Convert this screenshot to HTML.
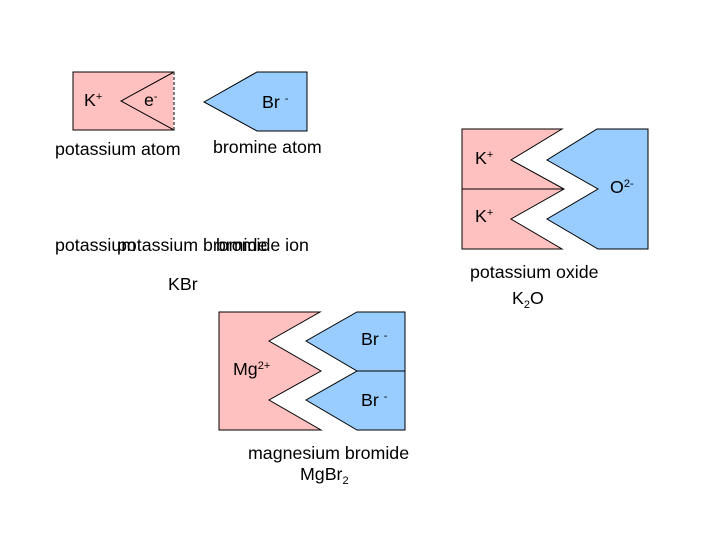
<!DOCTYPE html>
<html><head><meta charset="utf-8"><style>
html,body{margin:0;padding:0;background:#fff;}
svg text{font-family:"Liberation Sans",Arial,sans-serif;font-size:17.8px;fill:#000;}
</style></head><body>
<svg width="720" height="540" viewBox="0 0 720 540" xmlns="http://www.w3.org/2000/svg">
<rect x="0" y="0" width="720" height="540" fill="#fff"/>
<rect x="73" y="72" width="101" height="58" fill="#ffc0c0" stroke="#000" stroke-width="1"/>
<polyline points="174,72 121,101 174,130" fill="none" stroke="#000" stroke-width="1"/>
<line x1="174" y1="72" x2="174" y2="130" stroke="#fff" stroke-width="1.5"/>
<line x1="174" y1="72" x2="174" y2="130" stroke="#000" stroke-width="1" stroke-dasharray="3,2"/>
<text x="84" y="106">K<tspan font-size="11" dy="-6">+</tspan></text>
<text x="144" y="106">e<tspan font-size="11" dy="-6">-</tspan></text>
<polygon points="204,102 257,72 307,72 307,131 257,131" fill="#99ccff" stroke="#000" stroke-width="1"/>
<text x="262" y="108">Br <tspan font-size="11" dy="-6">-</tspan></text>
<text x="55" y="155">potassium atom</text>
<text x="213" y="153">bromine atom</text>
<polygon points="462,129 562,129 511,160 564,189 511,219 562,249 462,249" fill="#ffc0c0" stroke="#000" stroke-width="1"/>
<line x1="462" y1="189" x2="564" y2="189" stroke="#000" stroke-width="1"/>
<polygon points="597,129 648,129 648,249 598,249 547,219 598,189 547,160" fill="#99ccff" stroke="#000" stroke-width="1"/>
<text x="475" y="164">K<tspan font-size="11" dy="-6">+</tspan></text>
<text x="475" y="222">K<tspan font-size="11" dy="-6">+</tspan></text>
<text x="610" y="193">O<tspan font-size="11" dy="-6">2-</tspan></text>
<text x="470" y="278">potassium oxide</text>
<text x="512" y="304">K<tspan font-size="11" dy="4">2</tspan><tspan dy="-4">O</tspan></text>
<text x="55" y="251">potassium</text>
<text x="117" y="251">potassium bromide</text>
<text x="216" y="251">bromide ion</text>
<text x="168" y="290">KBr</text>
<polygon points="219,312 320,312 269,341 321,371 269,400 321,430 219,430" fill="#ffc0c0" stroke="#000" stroke-width="1"/>
<polygon points="357,312 405,312 405,430 357,430 306,400 357,371 306,341" fill="#99ccff" stroke="#000" stroke-width="1"/>
<line x1="357" y1="371" x2="405" y2="371" stroke="#000" stroke-width="1"/>
<text x="361" y="345">Br <tspan font-size="11" dy="-6">-</tspan></text>
<text x="361" y="406">Br <tspan font-size="11" dy="-6">-</tspan></text>
<text x="233" y="375">Mg<tspan font-size="11" dy="-6">2+</tspan></text>
<text x="248" y="459">magnesium bromide</text>
<text x="300" y="480">MgBr<tspan font-size="11" dy="4">2</tspan></text>
</svg>
</body></html>
